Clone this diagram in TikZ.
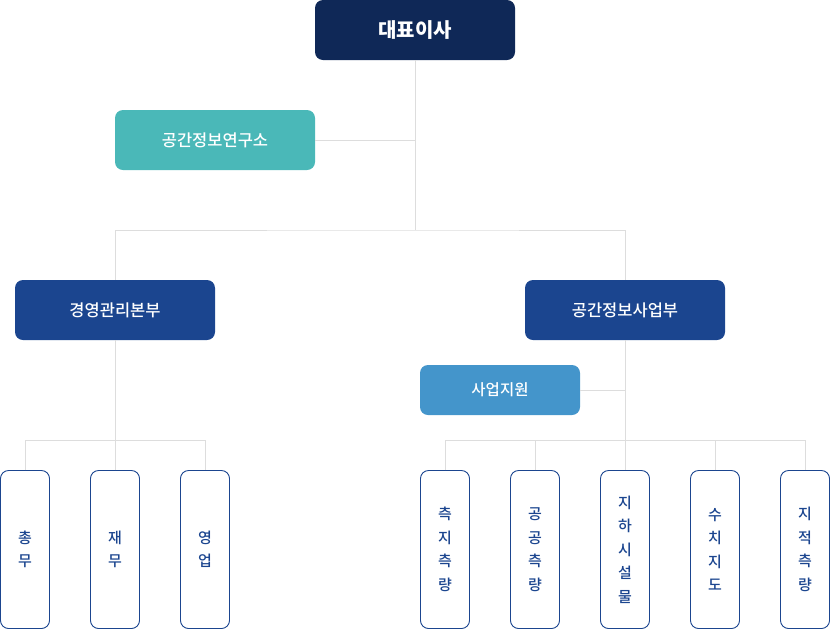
\documentclass[tikz,border=0pt]{standalone}
\usepackage{fontspec}
\setmainfont{Noto Sans CJK KR}
\newfontfamily\medfont{Noto Sans CJK KR Medium}
\definecolor{navy}{HTML}{0F2857}
\definecolor{headblue}{HTML}{1B458F}
\definecolor{labteal}{HTML}{4AB8B8}
\definecolor{supblue}{HTML}{4495CB}
\definecolor{linegray}{HTML}{DDDDDD}
\tikzset{
	box/.style={rectangle,rounded corners=8pt,inner sep=0pt,text=white,font=\medfont\fontsize{16.5}{20}\selectfont},
	topbox/.style={box,fill=navy,minimum width=200pt,minimum height=60pt,font=\fontsize{20}{24}\selectfont\bfseries},
	headbox/.style={box,fill=headblue,minimum width=200pt,minimum height=60pt},
	labbox/.style={box,fill=labteal,minimum width=200pt,minimum height=60pt},
	supbox/.style={box,fill=supblue,minimum width=160pt,minimum height=50pt,font=\medfont\fontsize{15.5}{19}\selectfont},
	leafbox/.style={rectangle,rounded corners=8pt,draw=headblue,line width=0.9pt,fill=white,text=headblue,minimum width=49pt,minimum height=158pt,inner sep=0pt,align=center,font=\medfont\fontsize{15}{23.5}\selectfont},
	conn/.style={draw=linegray,line width=1pt}
}
\begin{document}
\begin{tikzpicture}[x=1pt,y=-1pt]
		\useasboundingbox (0,0) rectangle (830,630);
		\coordinate (split) at (415,230);
		\coordinate (msplit) at (115,440);
		
		\node[topbox] (ceo) at (415,30) {대표이사};
		\node[labbox] (lab) at (215,140) {공간정보연구소};
		\node[headbox] (mgmt) at (115,310) {경영관리본부};
		\node[headbox] (biz) at (625,310) {공간정보사업부};
		\node[supbox] (support) at (500,390) {사업지원};
		
		\node[leafbox] (chongmu) at (25,549.5) {총\\무};
		\node[leafbox] (jaemu) at (115,549.5) {재\\무};
		\node[leafbox] (yeongeop) at (205,549.5) {영\\업};
		
		\node[leafbox] (cheukji) at (445,549.5) {측\\지\\측\\량};
		\node[leafbox] (gonggong) at (535,549.5) {공\\공\\측\\량};
		\node[leafbox] (jiha) at (625,549.5) {지\\하\\시\\설\\물};
		\node[leafbox] (suchi) at (715,549.5) {수\\치\\지\\도};
		\node[leafbox] (jijeok) at (805,549.5) {지\\적\\측\\량};
		
		\draw[conn] (ceo.south) -- (split);
		\draw[conn] (lab.east) -- (lab.east -| ceo.south);
		\draw[conn] (mgmt.north) |- (split) -| (biz.north);
		
		\draw[conn] (mgmt.south) -- (msplit);
		\draw[conn] (chongmu.north) -- ++(0,-30) -| (yeongeop.north);
		\draw[conn] (jaemu.north) -- (msplit);
		
		\draw[conn] (biz.south) -- (jiha.north);
		\draw[conn] (support.east) -- (support.east -| biz.south);
		\draw[conn] (cheukji.north) -- ++(0,-30) -| (jijeok.north);
		\draw[conn] (gonggong.north) -- ++(0,-30);
		\draw[conn] (suchi.north) -- ++(0,-30);
		\end{tikzpicture}
\end{document}
